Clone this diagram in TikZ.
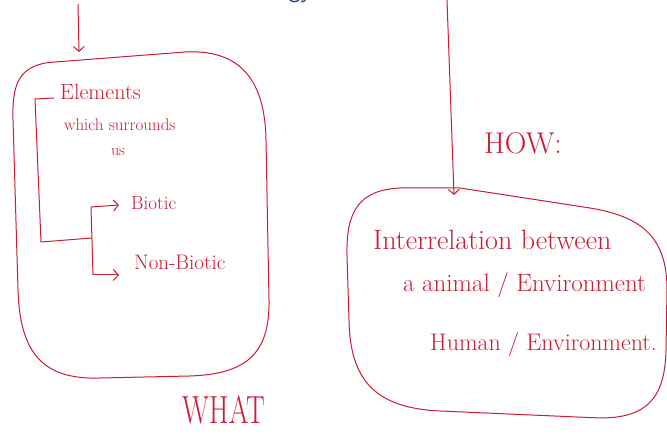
\documentclass[tikz,border=0pt]{standalone}
\usetikzlibrary{arrows.meta}
\definecolor{ink}{RGB}{204,28,52}
\definecolor{titleblue}{RGB}{40,70,130}
\tikzset{
  pen/.style={draw=ink, line width=1pt},
  arr/.style={pen, -{Straight Barb[length=5pt,width=11pt]}},
  hand/.style={text=ink, inner sep=0pt},
}
\begin{document}
\begin{tikzpicture}[x=1pt,y=-1pt]
\useasboundingbox (0,0) rectangle (667,443);
% partial title at top (clipped by page)
\node[text=titleblue, font=\sffamily\fontsize{26}{28}\selectfont, anchor=base] (title) at (300,-2) {gy};

% ---- left box ----
\draw[pen] (13,120) .. controls (12,85) and (18,64) .. (55,62) -- (185,52)
  .. controls (240,49) and (265,80) .. (266,140) -- (269,300)
  .. controls (270,355) and (245,374) .. (190,376) -- (100,378)
  .. controls (40,380) and (20,350) .. (18,290) -- cycle;
\coordinate (lefttop) at (79,52);
\coordinate (leftin) at (78,4);
\draw[arr] (leftin) -- (lefttop);

\node[hand, font=\fontsize{22}{24}\selectfont, anchor=west] (elem) at (60,92) {Elements};
\node[hand, font=\fontsize{17}{19}\selectfont, anchor=west] (which) at (64,125) {which surrounds};
\node[hand, font=\fontsize{16}{18}\selectfont] (us) at (118,152) {us};
\node[hand, font=\fontsize{19}{21}\selectfont, anchor=west] (biotic) at (131,203) {Biotic};
\node[hand, font=\fontsize{21}{23}\selectfont, anchor=west] (nonbiotic) at (134,262) {Non-Biotic};
\node[hand, font=\fontsize{28}{30}\selectfont, yscale=1.4] (what) at (224,410) {WHAT};

% bracket
\coordinate (b0) at (54,98);
\coordinate (b1) at (35,99);
\coordinate (b2) at (41,242);
\coordinate (b3) at (92,238);
\coordinate (b4) at (91,207);
\coordinate (b5) at (93,275);
\coordinate (e1) at (119,205);
\coordinate (e2) at (119,275);
\draw[pen] (b0) -- (b1) -- (b2) -- (b3);
\draw[pen] (b4) -- (b5);
\draw[arr] (b4) -- (e1);
\draw[arr] (b5) -- (e2);

% ---- right box ----
\draw[pen] (347,255) .. controls (346,210) and (360,190) .. (400,188) -- (460,188) -- (590,208)
  .. controls (645,217) and (667,240) .. (667,290) -- (666,350)
  .. controls (665,400) and (645,418) .. (600,418) -- (440,411)
  .. controls (375,408) and (350,380) .. (349,320) -- cycle;
\coordinate (rightin) at (447,0);
\coordinate (righttop) at (454,195);
\draw[arr] (rightin) -- (righttop);

\node[hand, font=\fontsize{30}{32}\selectfont, anchor=west] (how) at (484,143) {HOW:};
\node[hand, font=\fontsize{28}{30}\selectfont, anchor=west] (inter) at (373,240) {Interrelation between};
\node[hand, font=\fontsize{25}{27}\selectfont, anchor=west] (animal) at (403,285) {a animal / Environment};
\node[hand, font=\fontsize{24}{26}\selectfont, anchor=west] (human) at (430,345) {Human / Environment.};
\end{tikzpicture}
\end{document}
